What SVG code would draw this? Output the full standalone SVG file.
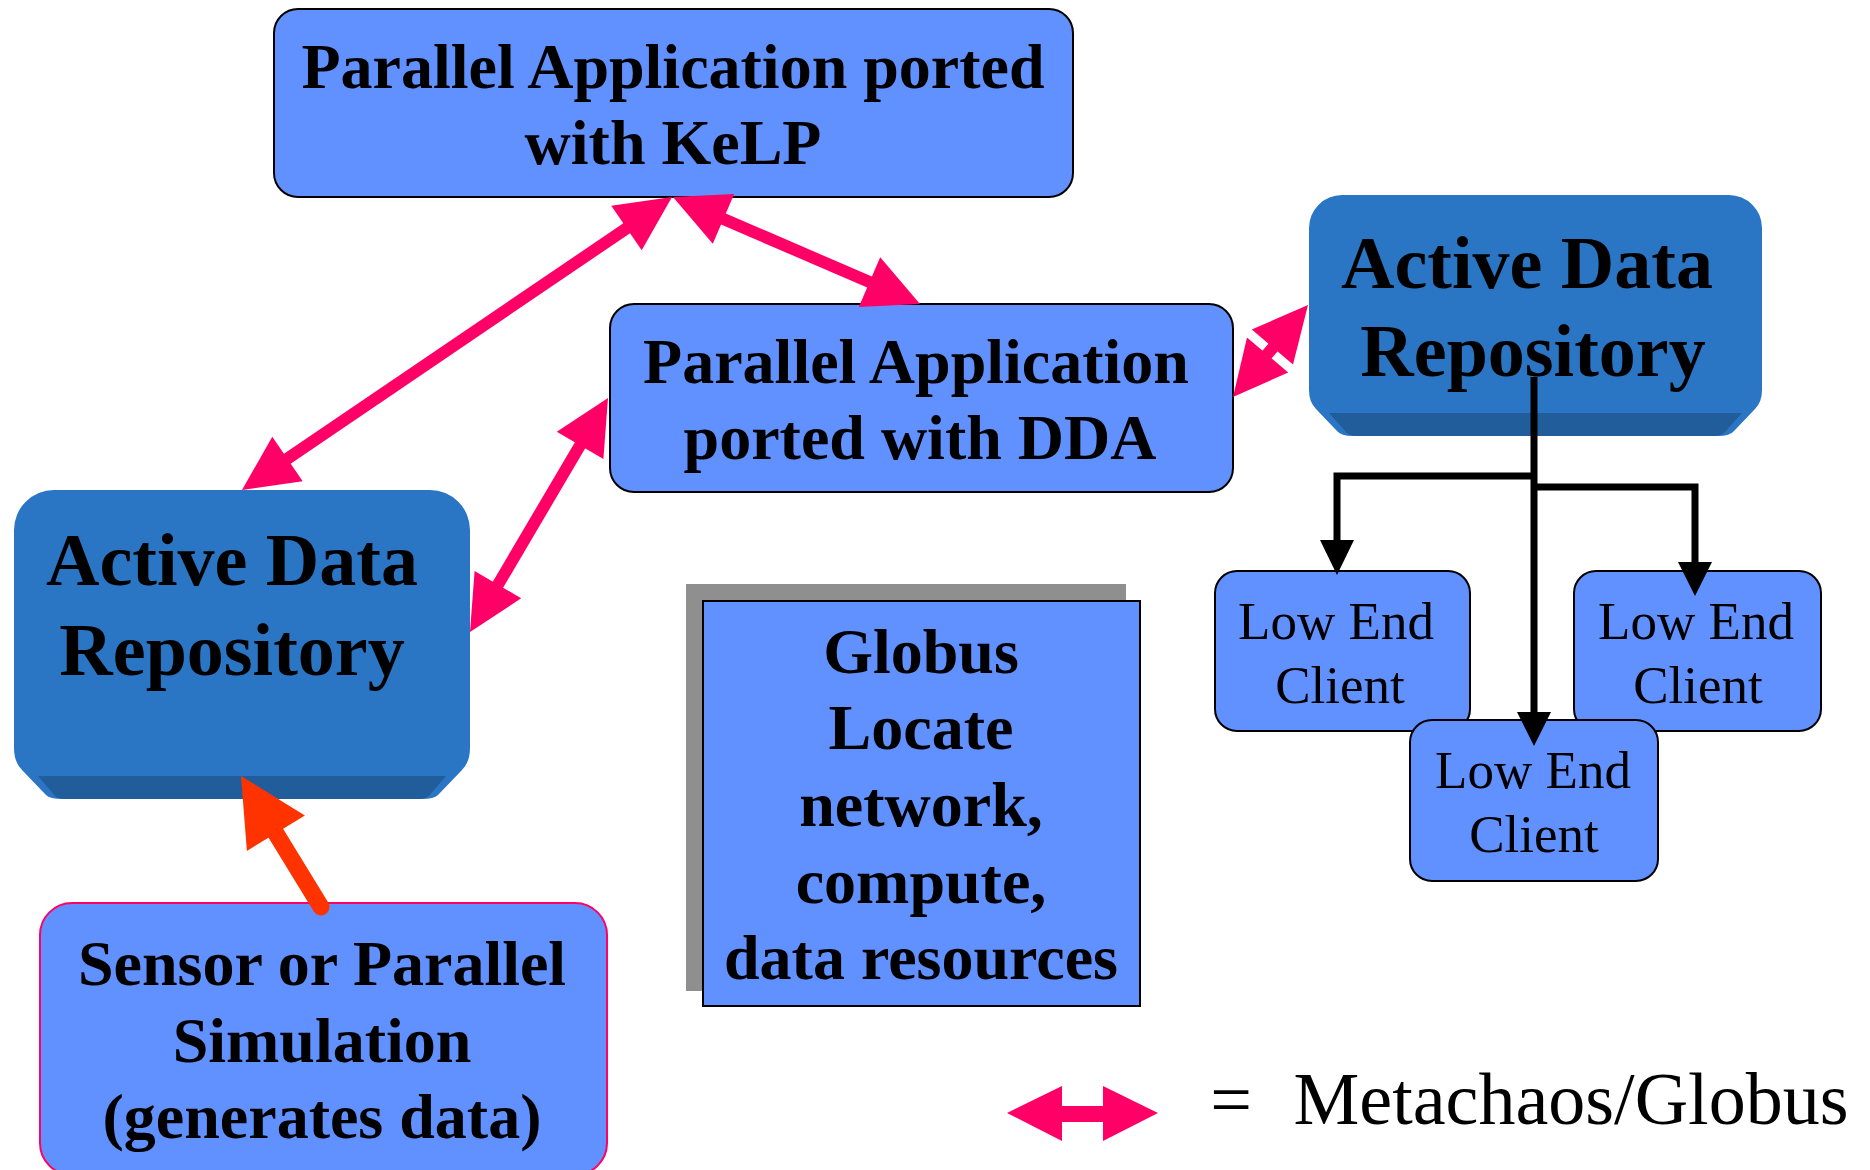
<svg xmlns="http://www.w3.org/2000/svg" width="1870" height="1170" viewBox="0 0 1870 1170">
<style>
.t{font-family:"Liberation Serif","Times New Roman",serif;text-anchor:middle;fill:#000}
.b{font-weight:bold}
.f64{font-size:64px}
.f74{font-size:74px}
.f53{font-size:53px}
.box{fill:#6190FF;stroke:#000;stroke-width:2}
.adr{fill:#2A76C4}
.band{fill:#225D9B}
.pk{stroke:#FF0066;stroke-width:12;fill:none}
.pkh{fill:#FF0066}
.bk{stroke:#000;stroke-width:7;fill:none}
</style>
<rect width="1870" height="1170" fill="#fff"/>

<g id="kelp">
<rect class="box" x="274" y="9" width="799" height="188" rx="24"/>
<text class="t b f64" x="673" y="88">Parallel Application ported</text>
<text class="t b f64" x="673" y="164">with KeLP</text>
</g>

<g id="dda">
<rect class="box" x="610" y="304" width="623" height="188" rx="24"/>
<text class="t b f64" x="916" y="383">Parallel Application</text>
<text class="t b f64" x="920" y="459">ported with DDA</text>
</g>

<g id="adr-left">
<path class="adr" d="M14,530 A40,40 0 0 1 54,490 L430,490 A40,40 0 0 1 470,530 L470,748 Q470,762 462,770 L438,795 Q434,799 422,799 L62,799 Q50,799 46,795 L22,770 Q14,762 14,748 Z"/>
<path class="band" d="M38,776 L446,776 L429,796 Q426,799 418,799 L66,799 Q58,799 55,796 Z"/>
<text class="t b f74" x="232" y="585">Active Data</text>
<text class="t b f74" x="232" y="675">Repository</text>
</g>

<g id="adr-right">
<path class="adr" d="M1309,228 A33,33 0 0 1 1342,195 L1729,195 A33,33 0 0 1 1762,228 L1762,390 Q1762,402 1755,409 L1734,431 Q1730,436 1718,436 L1353,436 Q1341,436 1337,431 L1316,409 Q1309,402 1309,390 Z"/>
<path class="band" d="M1329,413 L1742,413 L1724,433 Q1721,436 1713,436 L1358,436 Q1350,436 1347,433 Z"/>
<text class="t b f74" x="1527" y="288">Active Data</text>
<text class="t b f74" x="1533" y="376">Repository</text>
</g>

<g id="globus">
<rect x="686" y="584" width="440" height="407" fill="#8F8F8F"/>
<rect x="703" y="601" width="437" height="405" fill="#6190FF" stroke="#000" stroke-width="2"/>
<text class="t b f64" x="921" y="673">Globus</text>
<text class="t b f64" x="921" y="749">Locate</text>
<text class="t b f64" x="921" y="826">network,</text>
<text class="t b f64" x="921" y="903">compute,</text>
<text class="t b f64" x="921" y="979">data resources</text>
</g>

<g id="sensor">
<rect x="40" y="903" width="567" height="272" rx="32" fill="#6190FF" stroke="#FF0066" stroke-width="2"/>
<text class="t b f64" x="322" y="985">Sensor or Parallel</text>
<text class="t b f64" x="322" y="1062">Simulation</text>
<text class="t b f64" x="322" y="1138">(generates data)</text>
</g>

<g id="lec1">
<rect class="box" x="1215" y="571" width="255" height="160" rx="22"/>
<text class="t f53" x="1336" y="639">Low End</text>
<text class="t f53" x="1340" y="703">Client</text>
</g>
<g id="lec2">
<rect class="box" x="1574" y="571" width="247" height="160" rx="22"/>
<text class="t f53" x="1696" y="639">Low End</text>
<text class="t f53" x="1698" y="703">Client</text>
</g>
<g id="lec3">
<rect class="box" x="1410" y="720" width="248" height="161" rx="22"/>
<text class="t f53" x="1533" y="788">Low End</text>
<text class="t f53" x="1534" y="852">Client</text>
</g>

<g id="connectors">
<line class="pk" x1="630" y1="226" x2="284" y2="461"/>
<polygon class="pkh" points="672,197 641.7,250.3 611.3,205.7"/>
<polygon class="pkh" points="242,490 302.7,481.3 272.3,436.7"/>
<line class="pk" x1="720" y1="217.5" x2="873" y2="283.5"/>
<polygon class="pkh" points="673,197 712.8,243.7 734.2,194.1"/>
<polygon class="pkh" points="920,304 858.8,306.9 880.2,257.3"/>
<line class="pk" x1="582" y1="442" x2="496" y2="588"/>
<polygon class="pkh" points="608,398 603.4,459.1 556.8,431.7"/>
<polygon class="pkh" points="470,632 521.2,598.3 474.6,570.9"/>
<line class="pk" x1="1248" y1="377" x2="1293" y2="324"/>
<polygon class="pkh" points="1308,305 1293,364.5 1251.8,329.5"/>
<polygon class="pkh" points="1233,397 1288.2,372.5 1247,337.5"/>
<line x1="1251.7" y1="333.7" x2="1264.6" y2="344.7" stroke="#fff" stroke-width="4"/>
<line x1="1278.4" y1="356.3" x2="1291.3" y2="367.3" stroke="#fff" stroke-width="4"/>
<line x1="321" y1="907" x2="272" y2="827" stroke="#FF3300" stroke-width="17" stroke-linecap="round"/>
<polygon points="241,776 304.9,815.5 246.9,850.9" fill="#FF3300"/>
<polyline class="bk" points="1534,377 1534,714"/>
<polygon points="1517,712 1551,712 1534,746" fill="#000"/>
<polyline class="bk" points="1534,476 1337,476 1337,542"/>
<polygon points="1320,540 1354,540 1337,575" fill="#000"/>
<polyline class="bk" points="1534,487 1695,487 1695,564"/>
<polygon points="1678,562 1712,562 1695,596" fill="#000"/>
</g>

<g id="legend">
<polygon class="pkh" points="1007,1113 1062,1086 1062,1106 1103,1106 1103,1086 1158,1113 1103,1141 1103,1122 1062,1122 1062,1141"/>
<text class="t f74" x="1231" y="1124">=</text>
<text class="t f74" x="1571" y="1124">Metachaos/Globus</text>
</g>
</svg>
